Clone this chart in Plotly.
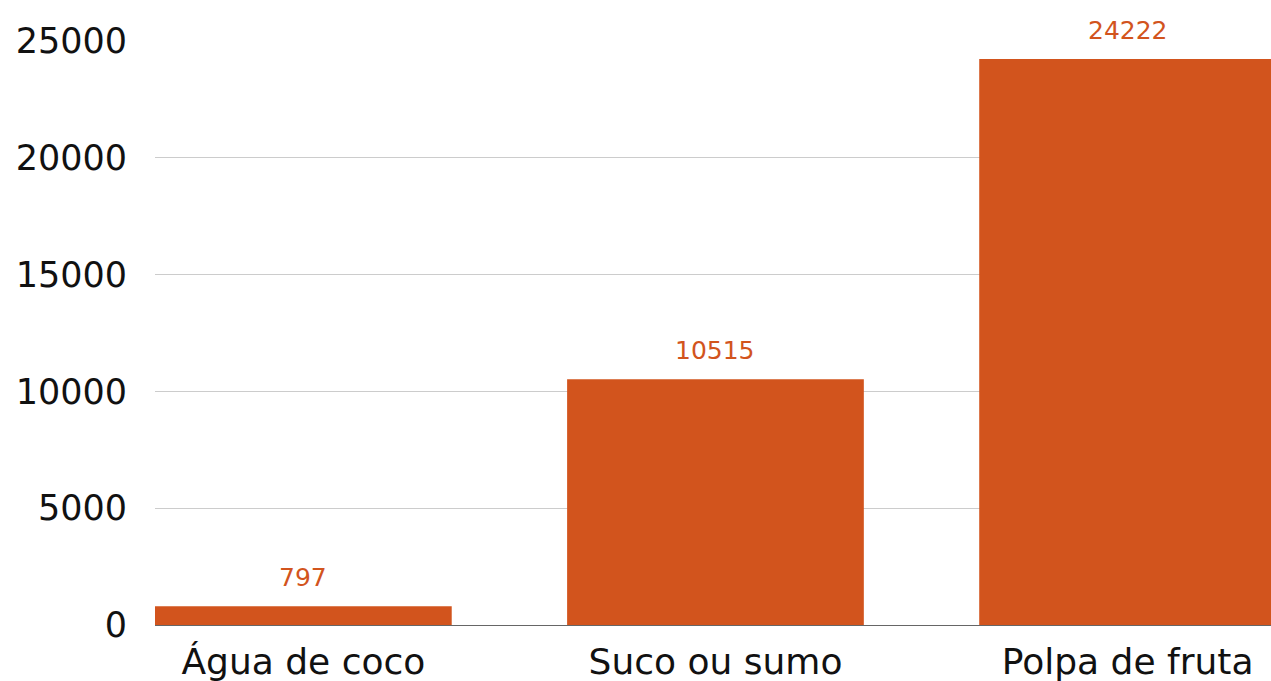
import plotly.graph_objects as go

categories = ["Água de coco", "Suco ou sumo", "Polpa de fruta"]
values = [797, 10515, 24222]
tick_vals = [0, 5000, 10000, 15000, 20000, 25000]
tick_text = ["0", "5000", "10000", "15000", "20000", "25000"]

bar_color = "#D2541D"
font_family = "DejaVu Sans"

fig = go.Figure(go.Bar(x=categories, y=values, marker_color=bar_color, marker_line_width=0))

for c, v in zip(categories, values):
    fig.add_annotation(x=c, y=v, text=str(v), showarrow=False, yanchor="bottom",
                       yshift=12, font=dict(family=font_family, size=25, color=bar_color))

fig.update_layout(
    width=1271, height=681,
    margin=dict(l=155, r=0, t=40, b=56),
    paper_bgcolor="white", plot_bgcolor="white",
    bargap=0.28, showlegend=False,
    font=dict(family=font_family, color="#111111"),
)
fig.update_xaxes(range=[-0.36, 2.348], tickfont=dict(size=36, color="#111111"), showgrid=False,
                 ticks="outside", tickcolor="rgba(0,0,0,0)", ticklen=5, automargin=False)
fig.update_yaxes(range=[0, 25030], tickvals=tick_vals, ticktext=tick_text,
                 tickfont=dict(size=35, color="#111111"),
                 showgrid=True, gridcolor="#CCCCCC", gridwidth=1.3,
                 zeroline=True, zerolinecolor="#666666", zerolinewidth=1.3,
                 ticks="outside", tickcolor="rgba(0,0,0,0)", ticklen=20, automargin=False)

fig.write_html("out.html", config={"displayModeBar": False},
               post_script="document.body.style.margin='0';document.body.style.overflow='hidden';")
